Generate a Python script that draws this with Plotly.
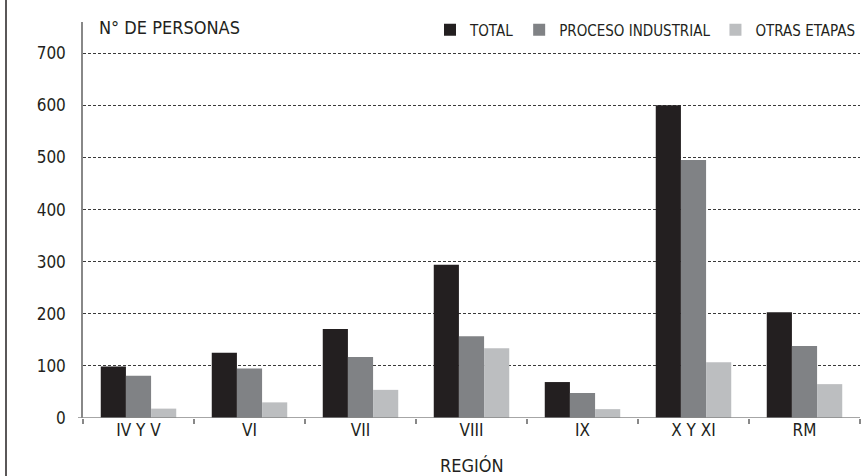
import plotly.graph_objects as go

regions = ["IV Y V", "VI", "VII", "VIII", "IX", "X Y XI", "RM"]
total = [99, 125, 171, 294, 69, 600, 203]
proceso = [81, 95, 117, 157, 48, 495, 138]
otras = [18, 30, 54, 134, 17, 107, 65]

series_names = ["TOTAL", "PROCESO INDUSTRIAL", "OTRAS ETAPAS"]
series_values = [total, proceso, otras]
series_colors = ["#231f20", "#808285", "#bcbec0"]

FONT = "DejaVu Sans Condensed, Liberation Sans Narrow, sans-serif"

fig = go.Figure()
for name, vals, col in zip(series_names, series_values, series_colors):
    fig.add_trace(go.Bar(x=regions, y=vals, name=name, marker=dict(color=col, line=dict(width=0))))

W, H = 863, 476
L, R, T, B = 83, 3, 22, 58
pw = W - L - R
ph = H - T - B

fig.update_layout(
    width=W, height=H,
    margin=dict(l=L, r=R, t=T, b=B, autoexpand=False),
    paper_bgcolor="white", plot_bgcolor="white",
    font=dict(family=FONT, color="#231f20", size=17),
    barmode="group", bargap=0.32, bargroupgap=0,
    showlegend=True,
    legend=dict(orientation="h", x=1.0, xanchor="right",
                y=(H - B - 30) / ph, yanchor="middle",
                font=dict(size=15, family=FONT, color="#231f20"),
                bgcolor="rgba(0,0,0,0)", borderwidth=0,
                itemclick=False, traceorder="normal"),
    xaxis=dict(showgrid=False, showline=False, ticks="outside", ticklen=5,
               tickcolor="#888", tickwidth=1.5, tickson="boundaries",
               tickfont=dict(size=17), zeroline=False, fixedrange=True,
               automargin=False),
    yaxis=dict(range=[0, 760], tickvals=[0, 100, 200, 300, 400, 500, 600, 700],
               showgrid=True, gridcolor="#3a3a3a", griddash="3px,2px", gridwidth=1,
               showline=True, linecolor="#888", linewidth=1.5,
               ticks="", ticklabelstandoff=12, tickfont=dict(size=17),
               zeroline=False, fixedrange=True, automargin=False),
    annotations=[
        dict(text="N° DE PERSONAS", xref="paper", yref="paper",
             x=(97 - L) / pw, y=(H - B - 28) / ph, xanchor="left", yanchor="middle",
             showarrow=False, font=dict(size=18)),
        dict(text="REGIÓN", xref="paper", yref="paper",
             x=0.5, y=-(465 - (H - B)) / ph, xanchor="center", yanchor="middle",
             showarrow=False, font=dict(size=18)),
    ],
    shapes=[
        dict(type="line", xref="paper", yref="y", x0=-5 / pw, x1=1, y0=0, y1=0,
             line=dict(color="#888", width=1.5), layer="above"),
        dict(type="line", xref="paper", yref="paper", x0=-(L - 6) / pw, x1=-(L - 6) / pw,
             y0=-B / ph, y1=1 + T / ph, line=dict(color="#231f20", width=1.5)),
    ],
)

fig.write_html("out.html", config={"displayModeBar": False, "staticPlot": False},
               post_script="document.body.style.margin='0';")
